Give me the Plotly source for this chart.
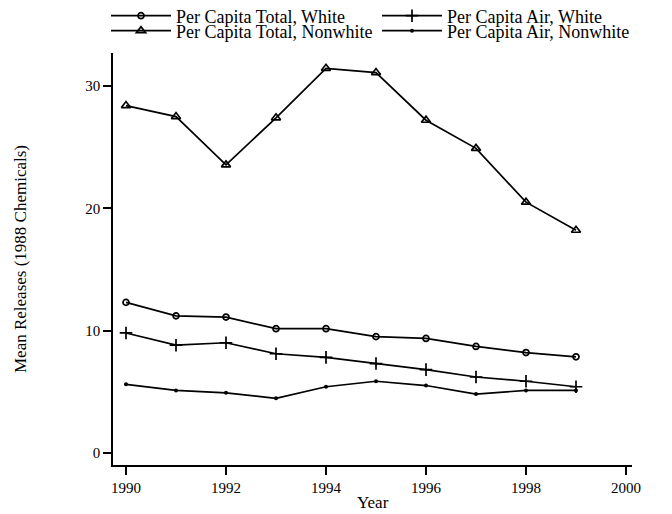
import plotly.graph_objects as go

years = [1990, 1991, 1992, 1993, 1994, 1995, 1996, 1997, 1998, 1999]
total_white = [12.3, 11.2, 11.1, 10.15, 10.15, 9.5, 9.35, 8.7, 8.2, 7.85]
air_white = [9.8, 8.8, 9.0, 8.1, 7.8, 7.3, 6.8, 6.2, 5.85, 5.4]
total_nonwhite = [28.4, 27.5, 23.55, 27.4, 31.45, 31.1, 27.2, 24.9, 20.5, 18.2]
air_nonwhite = [5.6, 5.1, 4.9, 4.45, 5.4, 5.85, 5.5, 4.8, 5.1, 5.1]

x_ticks = [1990, 1992, 1994, 1996, 1998, 2000]
y_ticks = [0, 10, 20, 30]

FONT = "Liberation Serif"
# page body has an 8px margin, so figure coords = screen coords - 8
W, H = 664, 506
L, R, T, B = 105, 40, 45, 49
line = dict(color="black", width=1.7)

fig = go.Figure()
fig.add_trace(go.Scatter(x=years, y=total_white, name="Per Capita Total, White",
                         mode="lines+markers", line=line, legend="legend",
                         marker=dict(symbol="circle-open", size=6, color="black", line=dict(width=1.7))))
fig.add_trace(go.Scatter(x=years, y=air_white, name="Per Capita Air, White",
                         mode="lines+markers", line=line, legend="legend2",
                         marker=dict(symbol="cross-thin-open", size=9, color="black", line=dict(width=1.7))))
fig.add_trace(go.Scatter(x=years, y=total_nonwhite, name="Per Capita Total, Nonwhite",
                         mode="lines+markers", line=line, legend="legend3",
                         marker=dict(symbol="triangle-up-open", size=8, color="black", line=dict(width=1.7))))
fig.add_trace(go.Scatter(x=years, y=air_nonwhite, name="Per Capita Air, Nonwhite",
                         mode="lines+markers", line=line, legend="legend4",
                         marker=dict(symbol="circle", size=4, color="black")))

def leg(xpix, ypix):
    return dict(orientation="h", x=(xpix - 6) / W, xref="container", xanchor="left",
                y=1 - ypix / H, yref="container", yanchor="middle",
                itemwidth=60, font=dict(size=18), bgcolor="rgba(0,0,0,0)", borderwidth=0)

fig.update_layout(
    width=W, height=H,
    margin=dict(l=L, r=R, t=T, b=B, autoexpand=False),
    paper_bgcolor="white", plot_bgcolor="white",
    font=dict(family=FONT, size=15, color="black"),
    showlegend=True,
    legend=leg(104, 8),
    legend2=leg(375, 8),
    legend3=leg(104, 23),
    legend4=leg(375, 23),
    xaxis=dict(range=[1989.74, 2000.12], tickvals=x_ticks, ticks="outside", ticklen=8,
               tickwidth=1.5, tickcolor="black", showline=True, linecolor="black",
               linewidth=1.7, showgrid=False, zeroline=False, tickfont=dict(size=15)),
    yaxis=dict(range=[-1.0, 32.7], tickvals=y_ticks, ticks="outside", ticklen=8,
               tickwidth=1.5, tickcolor="black", showline=True, linecolor="black",
               linewidth=1.7, showgrid=False, zeroline=False, tickfont=dict(size=15)),
    annotations=[
        dict(text="Year", xref="paper", yref="paper", x=0.5, y=-(494 - (H - B)) / (H - T - B),
             xanchor="center", yanchor="middle", showarrow=False, font=dict(size=17)),
        dict(text="Mean Releases (1988 Chemicals)", xref="paper", yref="paper",
             x=-(L - 12) / (W - L - R), y=0.5, xanchor="center", yanchor="middle",
             textangle=-90, showarrow=False, font=dict(size=17)),
    ],
)
fig.write_html("out.html")
